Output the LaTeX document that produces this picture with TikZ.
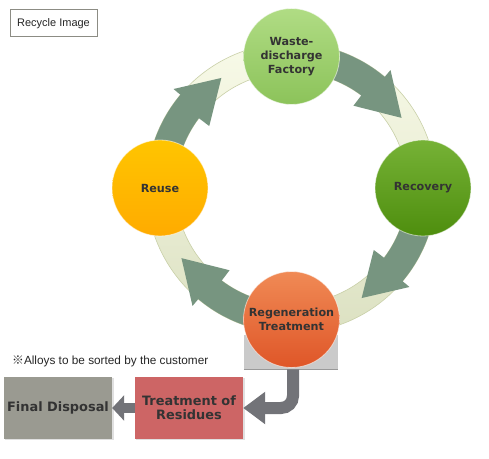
\documentclass[tikz,border=0pt]{standalone}
\usepackage{fontspec}
\setmainfont{Liberation Sans}
\newfontfamily\labfont{DejaVu Sans}
\newfontfamily\jpfont{Noto Sans CJK JP}
\usetikzlibrary{arrows.meta}
\definecolor{arrowc}{HTML}{779580}
\definecolor{bandtop}{HTML}{F8FAE8}
\definecolor{bandbot}{HTML}{DCE1C2}
\definecolor{bandline}{HTML}{C9D0A8}
\definecolor{wastetop}{HTML}{B0DC84}
\definecolor{wastebot}{HTML}{8CC35A}
\definecolor{rectop}{HTML}{76B236}
\definecolor{recbot}{HTML}{4E8E0E}
\definecolor{reusetop}{HTML}{FFC500}
\definecolor{reusebot}{HTML}{FFAB00}
\definecolor{regtop}{HTML}{F08A55}
\definecolor{regbot}{HTML}{DF5628}
\definecolor{labc}{HTML}{333333}
\definecolor{connc}{HTML}{727378}
\definecolor{basec}{HTML}{CACACA}
\definecolor{finalc}{HTML}{9A9A91}
\definecolor{treatc}{HTML}{CD6565}
\definecolor{titleline}{HTML}{8C8C84}
\tikzset{
  stage/.style={circle, minimum size=96pt, inner sep=0pt, draw=white, draw opacity=0.55, line width=0.8pt,
    text=labc, align=center, font=\labfont\bfseries\fontsize{11.2}{14}\selectfont},
  bottombox/.style={rectangle, minimum width=108pt, minimum height=62pt, inner sep=0pt,
    text=labc, align=center, font=\labfont\bfseries\fontsize{12.9}{14}\selectfont},
  boxshadow/.style={fill=black, opacity=0.12},
}
\begin{document}
\begin{tikzpicture}[x=1pt,y=1pt]
\useasboundingbox (0,0) rectangle (489,458);
\fill[white] (0,0) rectangle (489,458);
\coordinate (c) at (291.5,270);
% ring band
\shade[top color=bandtop, bottom color=bandbot, even odd rule] (c) circle[radius=145] (c) circle[radius=116];
\draw[bandline, line width=0.6pt] (c) circle[radius=145] (c) circle[radius=116];
% curved arrows
\foreach \s in {90,0,-90,180}{
  \fill[arrowc, shift={(c)}] (\s:145) arc[start angle=\s, end angle=\s-40, radius=145]
    -- ({\s-40}:154) -- ({\s-57.5}:130.5) -- ({\s-37}:103) -- ({\s-37}:116)
    arc[start angle=\s-37, end angle=\s, radius=116] -- cycle;
}
% base rectangle under regeneration
\node[rectangle, fill=basec, minimum width=94pt, minimum height=34pt, inner sep=0pt, anchor=north] (regenbase) at (291,123) {};
\draw[gray!80, line width=0.8pt] (regenbase.south west) -- (regenbase.south east);
% stages
\node[stage, top color=wastetop, bottom color=wastebot] (waste) at ([shift={(90:131.5)}]c) {Waste-\\discharge\\Factory};
\node[stage, top color=rectop, bottom color=recbot] (recovery) at ([shift={(0:131.5)}]c) {Recovery};
\node[stage, top color=regtop, bottom color=regbot] (regen) at ([shift={(-90:131.5)}]c) {Regeneration\\Treatment};
\node[stage, top color=reusetop, bottom color=reusebot] (reuse) at ([shift={(180:131.5)}]c) {Reuse};
% bottom boxes with faint shadows
\fill[boxshadow] (136,18) rectangle (244.5,80);
\fill[boxshadow] (5,18) rectangle (113.5,80);
\node[bottombox, fill=treatc] (treat) at (189,50) {Treatment of\\Residues};
\node[bottombox, fill=finalc] (final) at (58,50) {Final Disposal};
% connectors
\draw[connc, line width=12pt, rounded corners=12pt, -{Triangle[length=22pt, width=31pt]}]
  ([xshift=2pt]regenbase.south) |- (treat.east);
\draw[connc, line width=10pt, -{Triangle[length=12pt, width=25pt]}] (treat.west) -- (final.east);
% title and note
\node[draw=titleline, line width=1pt, minimum width=87pt, minimum height=27pt, inner sep=0pt,
  font=\fontsize{11}{13}\selectfont, text=black!85] (title) at (53.5,434.5) {Recycle Image};
\node[anchor=west, inner sep=0pt, font=\fontsize{11.8}{13}\selectfont, text=black!85] (note) at (12,97)
  {{\jpfont ※}Alloys to be sorted by the customer};
\end{tikzpicture}
\end{document}
